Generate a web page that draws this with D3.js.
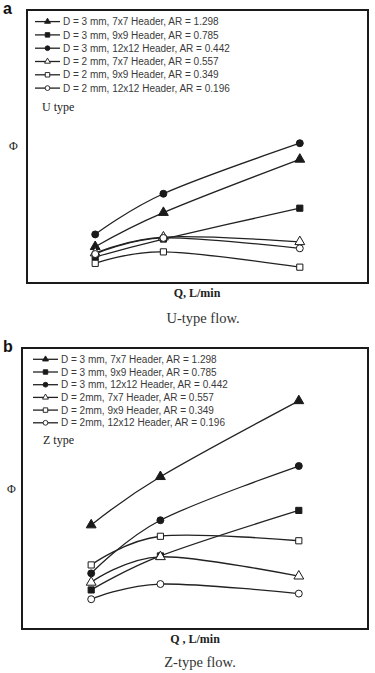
<!DOCTYPE html>
<html>
<head>
<meta charset="utf-8">
<script src="https://cdn.jsdelivr.net/npm/d3@7"></script>
<style>
  body { margin: 0; background: #fff; }
  svg { display: block; }
  .legend-text { font-family: "Liberation Sans", Arial, sans-serif; font-size: 10px; fill: #3a3a3a; }
  .serif { font-family: "Liberation Serif", "Times New Roman", serif; fill: #222; }
  .panel-tag { font-family: "Liberation Sans", Arial, sans-serif; font-weight: bold; font-size: 16px; fill: #111; }
</style>
</head>
<body>
<div id="chart"></div>
<script>
/**
 * CONSTANTS AND DATA
 * y values are relative Φ (0 = bottom of frame, 100 = top)
 **/
const flowRates = [1, 2, 4]; // Q, L/min (relative positions)

const symbolsList = ["triangle", "square", "circle", "triangle", "square", "circle"];
const filledList = [true, true, true, false, false, false];

const labelsU = [
  "D = 3 mm, 7x7 Header, AR = 1.298",
  "D = 3 mm, 9x9 Header, AR = 0.785",
  "D = 3 mm, 12x12 Header, AR = 0.442",
  "D = 2 mm, 7x7 Header, AR = 0.557",
  "D = 2 mm, 9x9 Header, AR = 0.349",
  "D = 2 mm, 12x12 Header, AR = 0.196"
];
const labelsZ = [
  "D = 3 mm, 7x7 Header, AR = 1.298",
  "D = 3 mm, 9x9 Header, AR = 0.785",
  "D = 3 mm, 12x12 Header, AR = 0.442",
  "D = 2mm, 7x7 Header, AR = 0.557",
  "D = 2mm, 9x9 Header, AR = 0.349",
  "D = 2mm, 12x12 Header, AR = 0.196"
];

// U-type flow
const u_d3_7x7 = [13.3, 25.8, 45.3];
const u_d3_9x9 = [9.5, 16.1, 27.4];
const u_d3_12x12 = [17.8, 32.7, 51.2];
const u_d2_7x7 = [11.0, 16.8, 15.1];
const u_d2_9x9 = [7.2, 11.4, 5.8];
const u_d2_12x12 = [10.6, 16.5, 12.7];

// Z-type flow
const z_d3_7x7 = [37.0, 54.2, 81.2];
const z_d3_9x9 = [13.9, 26.0, 42.2];
const z_d3_12x12 = [19.8, 38.7, 58.0];
const z_d2_7x7 = [16.6, 25.7, 18.8];
const z_d2_9x9 = [22.8, 33.0, 31.4];
const z_d2_12x12 = [10.6, 16.0, 12.6];

const width = 375, height = 673;

const svg = d3.select("#chart")
  .append("svg")
  .attr("width", width)
  .attr("height", height);

const symbolTypes = {
  triangle: d3.symbolTriangle,
  square: d3.symbolSquare,
  circle: d3.symbolCircle
};
const symbolSize = { triangle: 42, square: 38, circle: 38 };
const legendSize = { triangle: 15, square: 20, circle: 18 };

/**
 * DRAW ONE PANEL
 **/
function drawPanel(p) {
  const g = svg.append("g");

  //Scales
  const xScale = d3.scaleLinear().domain([0, 5]).range([p.left, p.right]);
  const yScale = d3.scaleLinear().domain([0, 100]).range([p.bottom, p.top]);

  const series = p.values.map((vals, i) => ({
    label: p.labels[i],
    symbol: symbolsList[i],
    filled: filledList[i],
    points: flowRates.map((q, j) => ({ q: q, v: vals[j] }))
  }));

  // frame
  g.append("rect")
    .attr("x", p.left)
    .attr("y", p.top)
    .attr("width", p.right - p.left)
    .attr("height", p.bottom - p.top)
    .attr("fill", "none")
    .attr("stroke", "#1a1a1a")
    .attr("stroke-width", 2);

  const lineFunc = d3.line()
    .curve(d3.curveCardinal.tension(0))
    .x(d => xScale(d.q))
    .y(d => yScale(d.v));

  g.selectAll("path.trend")
    .data(series)
    .join("path")
    .attr("class", "trend")
    .attr("fill", "none")
    .attr("stroke", "#222")
    .attr("stroke-width", 1.3)
    .attr("d", d => lineFunc(d.points));

  // markers
  series.forEach(s => {
    g.selectAll(null)
      .data(s.points)
      .join("path")
      .attr("transform", d => `translate(${xScale(d.q)},${yScale(d.v)})`)
      .attr("d", d3.symbol().type(symbolTypes[s.symbol]).size(symbolSize[s.symbol]))
      .attr("fill", s.filled ? "#1a1a1a" : "#fff")
      .attr("stroke", "#1a1a1a")
      .attr("stroke-width", 1);
  });

  // legend
  const legend = g.selectAll("g.legend")
    .data(series)
    .join("g")
    .attr("class", "legend")
    .attr("transform", (d, i) => `translate(0,${p.legendY + i * p.legendStep})`);

  legend.append("line")
    .attr("x1", p.legendX)
    .attr("x2", p.legendX + 25)
    .attr("stroke", "#222")
    .attr("stroke-width", 1.3);

  legend.append("path")
    .attr("transform", `translate(${p.legendX + 12.5},0)`)
    .attr("d", d => d3.symbol().type(symbolTypes[d.symbol]).size(legendSize[d.symbol])())
    .attr("fill", d => d.filled ? "#1a1a1a" : "#fff")
    .attr("stroke", "#1a1a1a")
    .attr("stroke-width", 0.9);

  legend.append("text")
    .attr("class", "legend-text")
    .attr("x", p.legendX + 28)
    .attr("y", 3.6)
    .text(d => d.label);

  // texts
  g.append("text")
    .attr("class", "panel-tag")
    .attr("x", 3)
    .attr("y", p.tagY)
    .text(p.tag);

  g.append("text")
    .attr("class", "serif")
    .attr("x", p.typeX)
    .attr("y", p.typeY)
    .attr("font-size", 12)
    .text(p.typeLabel);

  g.append("text")
    .attr("class", "serif")
    .attr("x", p.phiX)
    .attr("y", p.phiY)
    .attr("font-size", 12)
    .text("Φ");

  g.append("text")
    .attr("class", "serif")
    .attr("x", p.xLabelX)
    .attr("y", p.bottom + 14)
    .attr("text-anchor", "middle")
    .attr("font-size", 12)
    .attr("font-weight", "bold")
    .text(p.xLabel);

  g.append("text")
    .attr("class", "serif")
    .attr("x", p.captionX)
    .attr("y", p.captionY)
    .attr("text-anchor", "middle")
    .attr("font-size", 14.5)
    .style("fill", "#333")
    .text(p.caption);
}

drawPanel({
  tag: "a", tagY: 14,
  left: 27, right: 368, top: 10, bottom: 283,
  values: [u_d3_7x7, u_d3_9x9, u_d3_12x12, u_d2_7x7, u_d2_9x9, u_d2_12x12],
  labels: labelsU,
  legendX: 35, legendY: 21.6, legendStep: 13.3,
  typeLabel: "U type", typeX: 42, typeY: 111,
  phiX: 9, phiY: 150,
  xLabel: "Q, L/min", xLabelX: 197,
  caption: "U-type flow.", captionX: 203, captionY: 323
});

drawPanel({
  tag: "b", tagY: 352,
  left: 22, right: 368, top: 348, bottom: 629,
  values: [z_d3_7x7, z_d3_9x9, z_d3_12x12, z_d2_7x7, z_d2_9x9, z_d2_12x12],
  labels: labelsZ,
  legendX: 33, legendY: 359.3, legendStep: 12.7,
  typeLabel: "Z type", typeX: 43, typeY: 444,
  phiX: 7, phiY: 493,
  xLabel: "Q , L/min", xLabelX: 195,
  caption: "Z-type flow.", captionX: 200, captionY: 667
});
</script>
</body>
</html>
